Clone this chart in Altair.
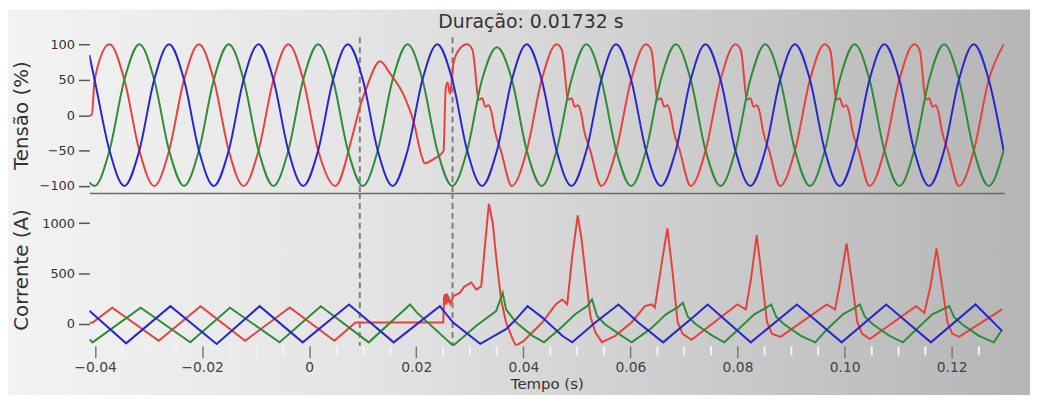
import altair as alt
import pandas as pd

# ---------------- data (time in ms) ----------------
# voltage (%) – green and blue phases on a shared time grid
T_GB = [-41.06, -40.08, -37.30, -34.52, -31.73, -28.95, -26.17, -23.38, -20.60, -17.82,
        -15.03, -12.25, -9.47, -6.68, -3.90, -1.12, 1.67, 4.45, 7.23, 10.02,
        12.80, 15.58, 18.37, 21.15, 23.93, 26.72, 29.50, 32.28, 35.07, 37.85,
        40.63, 43.42, 46.20, 48.98, 51.77, 54.55, 57.33, 60.12, 62.90, 65.68,
        68.47, 71.25, 74.03, 76.82, 79.60, 82.38, 85.17, 87.95, 90.73, 93.52,
        96.30, 99.08, 101.87, 104.65, 107.43, 110.22, 113.00, 115.78, 118.57, 121.35,
        124.13, 126.92, 129.70]
V_GREEN = [-95, -100,
           -50, 50, 100, 50, -50, -100,
           -50, 50, 100, 50, -50, -100,
           -50, 50, 100, 50, -50, -100,
           -50, 50, 100, 50, -50, -100,
           -50, 50, 96, 50, -50, -100,
           -50, 50, 100, 50, -50, -100,
           -50, 50, 100, 50, -50, -100,
           -50, 50, 100, 50, -50, -100,
           -50, 50, 100, 50, -50, -100,
           -50, 50, 100, 50, -50, -100,
           -50]
V_BLUE = [85, 50,
          -50, -100, -50, 50, 100, 50,
          -50, -100, -50, 50, 100, 50,
          -50, -100, -50, 50, 100, 50,
          -50, -100, -50, 50, 100, 50,
          -50, -100, -50, 50, 100, 50,
          -50, -100, -50, 50, 100, 50,
          -50, -100, -50, 50, 100, 50,
          -50, -100, -50, 50, 100, 50,
          -50, -100, -50, 50, 100, 50,
          -50, -100, -50, 50, 100, 50,
          -50]

# voltage (%) – red phase (distorted during and after the event)
T_RED_V = [-41.06, -40.60, -40.08, -37.30, -34.52, -31.73, -28.95, -26.17, -23.38, -20.60,
           -17.82, -15.03, -12.25, -9.47, -6.68, -3.90, -1.12, 1.67, 4.90, 8.04,
           9.52, 10.82, 12.67, 13.23, 15.08, 17.67, 19.53, 21.01, 21.57, 23.23,
           25.08, 25.50, 25.85, 26.30, 26.93, 28.04, 29.50,
           30.50, 31.70, 32.30, 32.90, 33.50, 34.10, 34.60, 35.80, 37.85, 40.63, 43.42, 46.20,
           47.20, 48.40, 49.00, 49.60, 50.20, 50.80, 51.30, 52.50, 54.55, 57.33, 60.12, 62.90,
           63.90, 65.10, 65.70, 66.30, 66.90, 67.50, 68.00, 69.20, 71.25, 74.03, 76.82, 79.60,
           80.60, 81.80, 82.40, 83.00, 83.60, 84.20, 84.70, 85.90, 87.95, 90.73, 93.52, 96.30,
           97.30, 98.50, 99.10, 99.70, 100.30, 100.90, 101.40, 102.60, 104.65, 107.43, 110.22, 113.00,
           114.00, 115.20, 115.80, 116.40, 117.00, 117.60, 118.10, 119.30, 121.35, 124.13, 126.92, 129.70]
V_RED = [0, 0, 50, 100, 50, -50, -100, -50, 50, 100,
         50, -50, -100, -50, 50, 100, 50, -50, -100, -30,
         13, 41, 73, 76, 59, 28, -10, -58, -68, -62,
         -51, 38, 46, 30, 73, 93, 100,
         92, 22, 24, 12, 14, 2, -20, -50, -100, -50, 50, 100,
         92, 22, 24, 12, 14, 2, -20, -50, -100, -50, 50, 100,
         92, 22, 24, 12, 14, 2, -20, -50, -100, -50, 50, 100,
         92, 22, 24, 12, 14, 2, -20, -50, -100, -50, 50, 100,
         92, 22, 24, 12, 14, 2, -20, -50, -100, -50, 50, 100,
         92, 22, 24, 12, 14, 2, -20, -50, -100, -50, 50, 100]

# current (A)
T_RED_I = [-41.06, -40.50, -36.79, -28.10, -20.30, -11.97, -3.63, 4.70, 8.65, 25.03,
           25.18, 25.36, 25.55, 25.73, 25.92, 26.10, 26.38, 26.94, 28.11, 28.98,
           30.27, 31.20, 32.13, 32.69, 33.55, 34.29, 34.91, 35.83, 36.76, 38.00,
           38.61, 40.09, 43.56, 46.03, 47.26, 48.19, 49.12, 50.15, 50.84, 51.58,
           52.51, 53.43, 54.67, 57.14, 60.23, 62.70, 63.94, 64.55, 66.03, 66.90,
           67.88, 68.81, 69.74, 71.40, 79.98, 81.54, 82.52, 83.58, 84.56, 85.49,
           86.41, 88.02, 96.66, 98.21, 99.19, 100.36, 101.42, 102.34, 103.27, 104.70,
           113.33, 114.89, 116.06, 117.17, 118.28, 119.21, 120.13, 121.37, 129.39]
I_RED = [10, 10, 160, -169, 175, -169, 162, -169, 12, 12,
         260, 295, 190, 300, 210, 250, 200, 274, 307, 370,
         410, 340, 372, 700, 1194, 1000, 668, 240, 15, -153,
         -218, -169, 15, 192, 241, 192, 668, 1079, 850, 507,
         77, -84, -183, -120, 15, 175, 192, 162, 668, 948,
         507, 15, -100, -160, 192, 143, 450, 882, 450, 20,
         -100, -130, 192, 143, 420, 800, 400, 20, -100, -153,
         175, 110, 380, 750, 350, 10, -100, -130, 143]

T_GREEN_I = [-41.06, -40.45, -31.48, -22.21, -14.80, -5.54, 2.17, 11.13, 18.84, 20.08,
             26.88, 31.20, 34.91, 36.14, 36.76, 38.61, 41.71, 43.85,
             46.71, 49.67, 51.89, 52.82, 53.75, 55.23, 58.38, 60.23,
             63.68, 66.64, 68.86, 69.79, 70.72, 72.20, 75.35, 77.52,
             80.17, 83.13, 85.36, 86.28, 87.21, 88.69, 91.84, 94.51,
             96.73, 99.69, 101.92, 102.84, 103.77, 105.25, 108.40, 110.87,
             113.41, 116.37, 118.60, 119.52, 120.45, 121.93, 125.08, 127.86, 129.39]
I_GREEN = [-153, -185, 160, -185, 160, -185, 175, -185, 192, 113,
           -218, -20, 126, 307, 143, 15, -120, -185,
           -54, 94, 175, 241, 77, -5, -120, -185,
           -54, 94, 165, 209, 70, -5, -120, -185,
           -54, 94, 160, 192, 70, -5, -120, -185,
           -54, 94, 160, 192, 70, -5, -120, -185,
           -54, 94, 150, 175, 65, -5, -120, -185, -60]

T_BLUE_I = [-41.06, -34.20, -25.92, -17.29, -9.25, -1.22, 7.43, 15.77, 24.40, 26.88,
            31.94, 36.76, 38.61, 40.78, 43.56, 47.26, 49.12, 53.43, 57.75, 61.45,
            66.09, 71.96, 74.42, 82.46, 91.10, 99.44, 107.77, 116.11, 124.45, 129.39]
I_BLUE = [130, -195, 175, -202, 175, -185, 192, -185, 175, 12,
          -200, -54, 44, 175, 61, -120, -185, 12, 192, 12,
          -185, 77, 192, -185, 192, -185, 192, -185, 192, -71]

EVENT_T = [9.45, 26.77]          # dashed cursors (ms)
TITLE = "Duração: 0.01732 s"
X_MAJOR = [-0.04, -0.02, 0, 0.02, 0.04, 0.06, 0.08, 0.10, 0.12]
X_MINOR = [-0.035, -0.03, -0.025, -0.015, -0.01, -0.005, 0.005, 0.01, 0.015, 0.025,
           0.03, 0.035, 0.045, 0.05, 0.055, 0.065, 0.07, 0.075, 0.085, 0.09,
           0.095, 0.105, 0.11, 0.115, 0.125]
PHASES = ["A", "B", "C"]
COLORS = ["#e5423d", "#2f8c36", "#2727cc"]


def frame(series):
    rows = []
    for name, ts, vs in series:
        for t, v in zip(ts, vs):
            rows.append({"t": t / 1000.0, "v": v, "fase": name})
    return pd.DataFrame(rows)


volt = frame([("A", T_RED_V, V_RED), ("B", T_GB, V_GREEN), ("C", T_GB, V_BLUE)])
curr = frame([("A", T_RED_I, I_RED), ("B", T_GREEN_I, I_GREEN), ("C", T_BLUE_I, I_BLUE)])
events = pd.DataFrame({"t": [v / 1000.0 for v in EVENT_T]})

FONT = "DejaVu Sans"
xs = alt.Scale(domain=[-0.04106, 0.1298], nice=False, zero=False)
color = alt.Color("fase:N", scale=alt.Scale(domain=PHASES, range=COLORS), legend=None)

ax_top = alt.Axis(labels=False, ticks=False, domain=True, domainColor="#6b6b6b",
                  domainWidth=1.5, title=None, grid=False, zindex=1)
ax_bottom = alt.Axis(values=X_MAJOR, labelExpr="datum.value == 0 ? '0' : format(datum.value, '.2f')",
                     tickSize=12, tickColor="#7a7a7a", tickWidth=1.5, labelFontSize=14,
                     labelColor="#444444", labelFont=FONT, labelPadding=3, domain=False, grid=False,
                     title="Tempo (s)", titleFont=FONT, titleFontSize=15, titleFontWeight="normal",
                     titleColor="#333333", titlePadding=2, orient="bottom", zindex=1)
ax_minor = alt.Axis(values=X_MINOR, labels=False, tickSize=9, tickColor="#f4f4f4", tickWidth=2,
                    domain=False, grid=False, title=None, orient="bottom", zindex=1)


def yaxis(values, title):
    return alt.Axis(values=values, format="d", title=title, titleFont=FONT, titleFontSize=20,
                    titleFontWeight="normal", titleColor="#333333", titlePadding=10,
                    labelFont=FONT, labelFontSize=13, labelColor="#333333", labelPadding=4,
                    tickSize=11, tickColor="#555555", tickWidth=1.5, domain=False, grid=False,
                    minExtent=48, maxExtent=48, zindex=1)


one = pd.DataFrame({"z": [0]})
bg = alt.Chart(one).mark_rect(
    clip=False,
    fill=alt.LinearGradient(gradient="linear", x1=0, x2=1, y1=0, y2=0,
                            stops=[alt.GradientStop(color="#f3f3f3", offset=0),
                                   alt.GradientStop(color="#e4e4e4", offset=0.35),
                                   alt.GradientStop(color="#cacaca", offset=0.7),
                                   alt.GradientStop(color="#b5b5b5", offset=1)]),
).encode(x=alt.value(-82), x2=alt.value(948), y=alt.value(-28), y2=alt.value(380))

title_txt = alt.Chart(one).mark_text(
    text=TITLE, font=FONT, fontSize=19, color="#333333", align="center",
    baseline="alphabetic", clip=False
).encode(x=alt.value(445), y=alt.value(-9))

cursor_top = alt.Chart(events).mark_rule(strokeDash=[6, 4], color="#7d7d7d", strokeWidth=2).encode(
    x=alt.X("t:Q", scale=xs, axis=ax_top))
volt_lines = alt.Chart(volt).mark_line(strokeWidth=2, interpolate="monotone", clip=True).encode(
    x=alt.X("t:Q", scale=xs, axis=ax_top),
    y=alt.Y("v:Q", scale=alt.Scale(domain=[-110, 110], nice=False),
            axis=yaxis([-100, -50, 0, 50, 100], "Tensão (%)")),
    color=color)

top = alt.layer(bg, title_txt, cursor_top, volt_lines).properties(width=922, height=157)

cursor_bot = alt.Chart(events).mark_rule(strokeDash=[6, 4], color="#7d7d7d", strokeWidth=2).encode(
    x=alt.X("t:Q", scale=xs, axis=ax_minor))
curr_lines = alt.Chart(curr).mark_line(strokeWidth=2, clip=True).encode(
    x=alt.X("t:Q", scale=xs, axis=ax_bottom),
    y=alt.Y("v:Q", scale=alt.Scale(domain=[-220, 1300], nice=False),
            axis=yaxis([0, 500, 1000], "Corrente (A)")),
    color=color)

bottom = alt.layer(cursor_bot, curr_lines).resolve_axis(x="independent").properties(
    width=922, height=154)

chart = alt.vconcat(top, bottom, spacing=0, bounds="flush").properties(
    padding={"left": 0, "top": 0, "right": 0, "bottom": -21}
).configure_view(stroke=None)

chart.save("out.html", embed_options={"renderer": "svg", "actions": False})
